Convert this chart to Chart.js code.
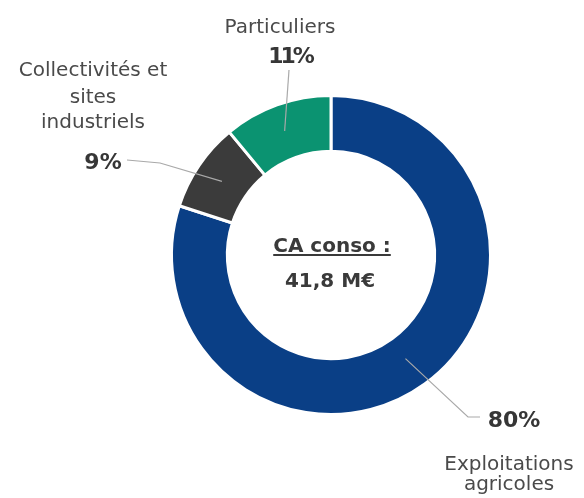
<!DOCTYPE html>
<html><head><meta charset="utf-8">
<script src="https://cdn.jsdelivr.net/npm/chart.js@4"></script>
<style>html,body{margin:0;padding:0;background:#fff}#wrap{width:584px;height:498px}</style>
</head><body><div id="wrap"><canvas id="c" width="584" height="498"></canvas></div>
<script>
const categories = ["Exploitations agricoles", "Collectivités et sites industriels", "Particuliers"];
const values = [80, 9, 11];
const percentLabels = ["80%", "9%", "11%"];
const colors = ["#0a3f86", "#3b3b3b", "#0b9371"];
const centerTitle = "CA conso :";
const centerValue = "41,8 M€";

// label layout: anchor angle on ring (degrees from top, clockwise), radius fraction, leader path, text baselines
const labelLayout = [
  {anchorDeg: 144.3, anchorR: 0.80, path: [[468,417],[480,417]], pct: [514,427], spacing: '0px', name: ["Exploitations","agricoles"], nameX: 509, nameY: [470,490]},
  {anchorDeg: 304.0, anchorR: 0.825, path: [[160,163],[127,160]], pct: [103,169], spacing: '0px', name: ["Collectivités et","sites","industriels"], nameX: 93, nameY: [76,103,128]},
  {anchorDeg: 339.5, anchorR: 0.83, path: [[289,70]], pct: [290,63], spacing: '-3px', name: ["Particuliers"], nameX: 280, nameY: [33]}
];

const labelPlugin = {
  id: 'labels',
  afterDatasetsDraw(chart) {
    const ctx = chart.ctx;
    const meta = chart.getDatasetMeta(0);
    meta.data.forEach((arc, i) => {
      const L = labelLayout[i];
      const a = L.anchorDeg * Math.PI / 180;
      const r = arc.outerRadius * L.anchorR;
      const ax = arc.x + r * Math.sin(a);
      const ay = arc.y - r * Math.cos(a);
      ctx.save();
      ctx.strokeStyle = '#a9a9a9';
      ctx.lineWidth = 1.2;
      ctx.beginPath();
      ctx.moveTo(ax, ay);
      L.path.forEach(p => ctx.lineTo(p[0], p[1]));
      ctx.stroke();
      ctx.textAlign = 'center';
      ctx.textBaseline = 'alphabetic';
      ctx.fillStyle = '#363636';
      ctx.font = 'bold 22px "DejaVu Sans"';
      ctx.letterSpacing = L.spacing;
      ctx.fillText(percentLabels[i], L.pct[0], L.pct[1]);
      ctx.letterSpacing = '0px';
      ctx.fillStyle = '#4a4a4a';
      ctx.font = '20px "DejaVu Sans"';
      L.name.forEach((t, k) => ctx.fillText(t, L.nameX, L.nameY[k]));
      ctx.restore();
    });
    // center text
    const c = meta.data[0];
    ctx.save();
    ctx.textAlign = 'center';
    ctx.textBaseline = 'alphabetic';
    ctx.fillStyle = '#3a3a3a';
    ctx.font = 'bold 20px "DejaVu Sans"';
    const tx = c.x + 1, ty = c.y - 3;
    ctx.fillText(centerTitle, tx, ty);
    const w = ctx.measureText(centerTitle).width;
    ctx.fillRect(tx - w/2, ty + 2, w, 2);
    ctx.fillText(centerValue, c.x - 1, c.y + 32);
    ctx.restore();
  }
};

new Chart(document.getElementById('c'), {
  type: 'doughnut',
  data: {
    labels: categories,
    datasets: [{ data: values, backgroundColor: colors, borderColor: '#fff', borderWidth: 3, hoverOffset: 0 }]
  },
  options: {
    responsive: false,
    animation: false,
    cutout: '65%',
    layout: { padding: { left: 170, right: 92, top: 94, bottom: 82 } },
    plugins: { legend: { display: false }, tooltip: { enabled: false } }
  },
  plugins: [labelPlugin]
});
</script></body></html>
